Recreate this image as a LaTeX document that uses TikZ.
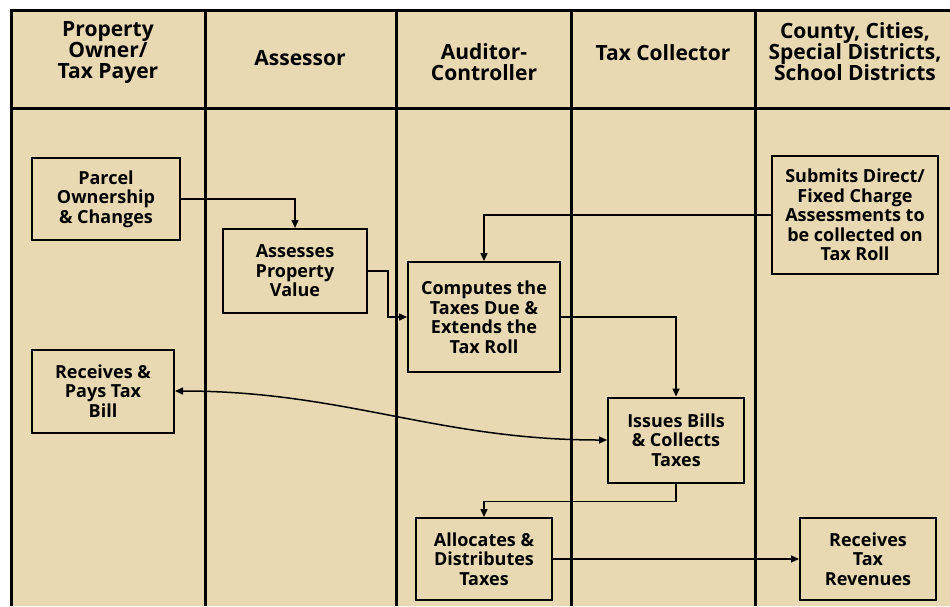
\documentclass[tikz,border=0pt]{standalone}
\usepackage{fontspec}
\setmainfont{Open Sans}
\usetikzlibrary{arrows.meta}
\definecolor{lanebg}{RGB}{233,217,179}

\begin{document}
\begin{tikzpicture}[x=1pt,y=-1pt]
	\tikzstyle{lane}=[line width=3pt,black]
	\tikzstyle{head}=[align=center,inner sep=0pt,font=\fontsize{21}{21}\selectfont\bfseries]
	\tikzstyle{box}=[draw,line width=2pt,fill=lanebg,align=center,inner sep=0pt,font=\fontsize{18}{19.5}\selectfont\bfseries]
	\tikzstyle{edge}=[draw,line width=1.5pt,-{Triangle[length=8pt,width=7pt]}]
	\tikzstyle{both}=[{Triangle[length=8pt,width=7pt]}-{Triangle[length=8pt,width=7pt]}]
	\useasboundingbox (0,0) rectangle (950,606);
	\fill[lanebg] (11,10) rectangle (950,606);
	\draw[lane] (950,10) -- (11,10) -- (11,606);
	\draw[lane] (11,108) -- (950,108);
	\foreach \x in {205,396,571,755} \draw[lane] (\x,10) -- (\x,606);
	% lane heads
	\node[head] (h1) at (108,53) {Property\\Owner/\\Tax Payer};
	\node[head] (h2) at (300,58) {Assessor};
	\node[head] (h3) at (484,62) {Auditor-\\Controller};
	\node[head] (h4) at (663,53) {Tax Collector};
	\node[head] (h5) at (855,52) {County, Cities,\\Special Districts,\\School Districts};
	% steps
	\node[box,minimum width=148pt,minimum height=82pt] (1) at (106,199) {Parcel\\Ownership\\\& Changes};
	\node[box,minimum width=144pt,minimum height=84pt] (2) at (295,271) {Assesses\\Property\\Value};
	\node[box,minimum width=152pt,minimum height=110pt] (3) at (484,317) {Computes the\\Taxes Due \&\\Extends the\\Tax Roll};
	\node[box,minimum width=166pt,minimum height=118pt] (4) at (855,215) {Submits Direct/\\Fixed Charge\\Assessments to\\be collected on\\Tax Roll};
	\node[box,minimum width=142pt,minimum height=83pt] (5) at (103,391) {Receives \&\\Pays Tax\\Bill};
	\node[box,minimum width=136pt,minimum height=85pt] (6) at (676,440) {Issues Bills\\\& Collects\\Taxes};
	\node[box,minimum width=136pt,minimum height=82pt] (7) at (484,559) {Allocates \&\\Distributes\\Taxes};
	\node[box,minimum width=136pt,minimum height=82pt] (8) at (868,559) {Receives\\Tax\\Revenues};
	% flows
	\draw[edge] (1.east) -| (2.north);
	\draw[edge] (2.east) -- ++(20,0) |- (3.west);
	\draw[edge] (4.west) -| (3.north);
	\draw[edge] (3.east) -| (6.north);
	\draw[edge,both] (5.east) to[out=0,in=180] (6.west);
	\draw[edge] (6.south) -- ++(0,18) -| (7.north);
	\draw[edge] (7.east) -- (8.west);
\end{tikzpicture}
\end{document}
